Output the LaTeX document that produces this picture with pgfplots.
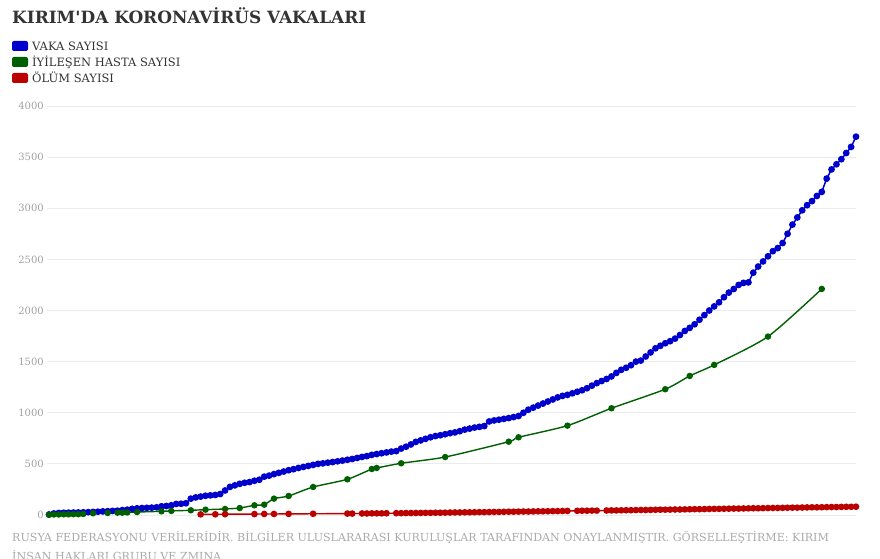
\documentclass[border=0pt]{standalone}
\usepackage{pgfplots}
\pgfplotsset{compat=1.18}
\usepackage{fontspec}
\setmainfont{DejaVu Serif}
\definecolor{cblue}{RGB}{0,0,205}
\definecolor{cgreen}{RGB}{0,95,0}
\definecolor{cred}{RGB}{187,0,0}
\definecolor{titlegray}{RGB}{51,51,51}
\definecolor{labgray}{RGB}{160,160,160}
\definecolor{footgray}{RGB}{170,170,170}
\definecolor{gridgray}{RGB}{235,235,235}
\begin{document}
\begin{tikzpicture}
\begin{axis}[
  at={(47pt,-515pt)}, anchor=south west,
  scale only axis, width=809pt, height=409pt,
  xmin=-0.41, xmax=165, ymin=0, ymax=4000,
  axis line style={draw=none}, tick style={draw=none},
  xtick=\empty, ytick={0,500,...,4000},
  ymajorgrids, grid style={color=gridgray, line width=0.8pt},
  yticklabel style={font=\fontsize{10}{12}\selectfont, text=labgray, anchor=east, inner sep=0pt, xshift=-3pt},
  /pgf/number format/assume math mode=true,
  /pgf/number format/1000 sep={},
  clip=false,
]
\addplot[cblue, line width=1.5pt, mark=*, mark size=2.6pt, mark options={fill=cblue, draw=cblue}] coordinates {
(0,5)(1,15)(2,20)(3,22)(4,23)(5,24)(6,25)(7,26)(8,28)(9,30)
(10,32)(11,35)(12,37)(13,40)(14,42)(15,48)(16,52)(17,60)(18,65)(19,68)
(20,70)(21,72)(22,75)(23,85)(24,88)(25,95)(26,108)(27,110)(28,115)(29,160)
(30,172)(31,180)(32,188)(33,192)(34,196)(35,205)(36,240)(37,275)(38,290)(39,305)
(40,315)(41,322)(42,335)(43,345)(44,375)(45,385)(46,400)(47,412)(48,425)(49,438)
(50,448)(51,460)(52,470)(53,480)(54,490)(55,500)(56,505)(57,512)(58,518)(59,525)
(60,532)(61,540)(62,548)(63,558)(64,568)(65,576)(66,588)(67,596)(68,604)(69,612)
(70,620)(71,625)(72,650)(73,668)(74,690)(75,715)(76,730)(77,745)(78,760)(79,772)
(80,780)(81,790)(82,800)(83,808)(84,820)(85,835)(86,845)(87,855)(88,862)(89,870)
(90,915)(91,925)(92,932)(93,940)(94,948)(95,958)(96,968)(97,1000)(98,1030)(99,1050)
(100,1070)(101,1090)(102,1110)(103,1130)(104,1150)(105,1165)(106,1175)(107,1190)(108,1205)(109,1220)
(110,1240)(111,1265)(112,1290)(113,1310)(114,1330)(115,1355)(116,1390)(117,1420)(118,1440)(119,1465)
(120,1500)(121,1510)(122,1550)(123,1590)(124,1630)(125,1655)(126,1680)(127,1700)(128,1725)(129,1760)
(130,1800)(131,1830)(132,1865)(133,1910)(134,1955)(135,2000)(136,2040)(137,2080)(138,2130)(139,2175)
(140,2210)(141,2250)(142,2270)(143,2275)(144,2370)(145,2430)(146,2480)(147,2530)(148,2580)(149,2610)
(150,2660)(151,2750)(152,2840)(153,2910)(154,2980)(155,3030)(156,3070)(157,3120)(158,3160)(159,3290)
(160,3380)(161,3430)(162,3480)(163,3540)(164,3600)(165,3700)
};
\addplot[cgreen, line width=1.4pt, smooth, tension=0.4, mark=*, mark size=2.5pt, mark options={fill=cgreen, draw=cgreen}] coordinates {
(0,2)(1,5)(2,5)(3,7)(4,7)(5,8)(6,8)(7,10)(9,17)(12,20)(14,23)(15,23)(16,25)(18,29)
(23,36)(25,40)(29,46)(32,52)(36,59)(39,68)(42,95)(44,101)(46,160)(49,186)
(54,274)(61,349)(66,450)(67,460)(72,506)(81,567)(94,717)(96,760)(106,874)
(115,1044)(126,1230)(131,1360)(136,1468)(147,1745)(158,2211)
};
\addplot[cred, line width=1.4pt, mark=*, mark size=2.6pt, mark options={fill=cred, draw=cred}] coordinates {
(31,6)(34,7)(36,8)(42,9)(44,10)(46,10)(49,11)(54,12)(61,14)(62,14)(64,15)(65,15)(66,16)(67,16)(68,16)(69,17)
(71,18)(72,18)(73,19)(74,19)(75,20)(76,20)(77,21)(78,21)(79,22)(80,22)(81,23)(82,24)(83,25)(84,25)(85,26)(86,26)
(87,27)(88,28)(89,28)(90,29)(91,30)(92,30)(93,31)(94,32)(95,32)(96,33)(97,34)(98,34)(99,35)(100,36)(101,36)
(102,37)(103,38)(104,38)(105,39)(106,40)
(108,41)(109,42)(110,42)(111,43)(112,43)
(114,44)(115,45)(116,45)(117,46)(118,47)(119,47)(120,48)(121,49)(122,49)(123,50)(124,51)(125,52)(126,52)
(127,53)(128,54)(129,54)(130,55)(131,56)(132,57)(133,57)(134,58)(135,59)(136,60)(137,60)(138,61)(139,62)
(140,63)(141,63)(142,64)(143,65)(144,66)(145,66)(146,67)(147,68)(148,69)(149,69)(150,70)(151,71)(152,72)
(153,72)(154,73)(155,74)(156,75)(157,75)(158,76)(159,77)(160,78)(161,78)(162,79)(163,80)(164,80)(165,81)
};
\end{axis}
\node[anchor=base west, inner sep=0pt, font=\bfseries\fontsize{16.9}{20}\selectfont, text=titlegray] at (12pt,-24pt) {KIRIM\textquotesingle DA KORONAVİRÜS VAKALARI};
\fill[cblue, rounded corners=2pt] (12pt,-41pt) rectangle (28pt,-51pt);
\fill[cgreen, rounded corners=2pt] (12pt,-57pt) rectangle (28pt,-67pt);
\fill[cred, rounded corners=2pt] (12pt,-73pt) rectangle (28pt,-83pt);
\node[anchor=base west, inner sep=0pt, font=\fontsize{11.5}{14}\selectfont, text=titlegray] at (32pt,-51pt) {VAKA SAYISI};
\node[anchor=base west, inner sep=0pt, font=\fontsize{11.5}{14}\selectfont, text=titlegray] at (32pt,-67pt) {İYİLEŞEN HASTA SAYISI};
\node[anchor=base west, inner sep=0pt, font=\fontsize{11.5}{14}\selectfont, text=titlegray] at (32pt,-83pt) {ÖLÜM SAYISI};
\node[anchor=base west, inner sep=0pt, font=\fontsize{11.1}{14}\selectfont, text=footgray] at (12pt,-541pt) {RUSYA FEDERASYONU VERİLERİDİR. BİLGİLER ULUSLARARASI KURULUŞLAR TARAFINDAN ONAYLANMIŞTIR. GÖRSELLEŞTİRME: KIRIM};
\node[anchor=base west, inner sep=0pt, font=\fontsize{11.1}{14}\selectfont, text=footgray] at (12pt,-560pt) {İNSAN HAKLARI GRUBU VE ZMINA};
\pgfresetboundingbox
\path (0pt,0pt) rectangle (880pt,-559pt);
\end{tikzpicture}
\end{document}
